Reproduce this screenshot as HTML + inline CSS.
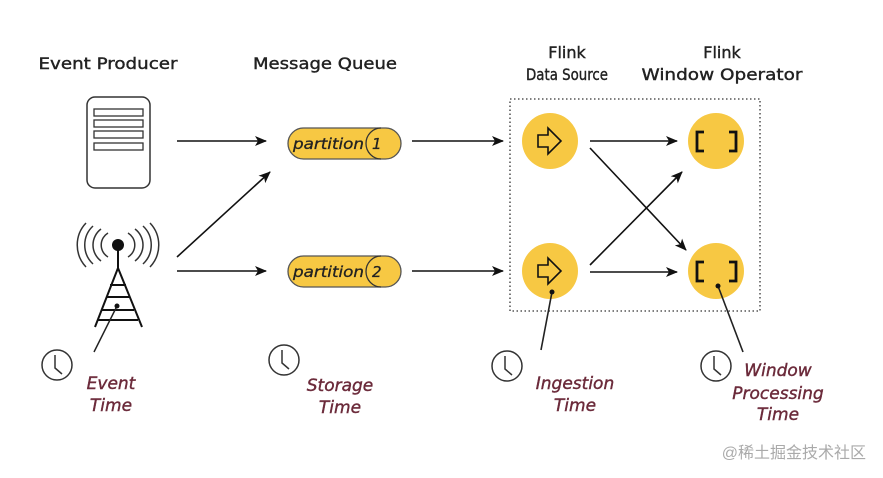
<!DOCTYPE html>
<html><head><meta charset="utf-8"><style>body{margin:0;background:#fff}svg{display:block}</style></head><body>
<svg width="883" height="478" viewBox="0 0 883 478" xmlns="http://www.w3.org/2000/svg" font-family="DejaVu Sans, Liberation Sans, sans-serif">
<defs><marker id="a" markerWidth="12" markerHeight="10" refX="11" refY="5" orient="auto" markerUnits="userSpaceOnUse"><path d="M0,0 L12,5 L0,10 L3,5 Z" fill="#111"/></marker></defs>
<g fill="#222" stroke="#222" stroke-width="0.4" font-size="16" text-anchor="middle">
<text x="108" y="69" textLength="139" lengthAdjust="spacingAndGlyphs">Event Producer</text>
<text x="325" y="69" textLength="144" lengthAdjust="spacingAndGlyphs">Message Queue</text>
<text x="567" y="58">Flink</text><text x="567" y="80" textLength="82" lengthAdjust="spacingAndGlyphs">Data Source</text>
<text x="722" y="58">Flink</text><text x="722" y="80" textLength="161" lengthAdjust="spacingAndGlyphs">Window Operator</text>
</g>
<rect x="87" y="97" width="63" height="91" rx="8" fill="none" stroke="#333" stroke-width="1.5"/>
<g fill="none" stroke="#333" stroke-width="1.3"><rect x="94" y="109" width="49" height="7"/><rect x="94" y="120" width="49" height="7"/><rect x="94" y="131" width="49" height="7"/><rect x="94" y="143" width="49" height="7"/></g>
<g fill="none" stroke="#333" stroke-width="1.5">
<path d="M108,233 a14,14 0 0 0 0,24"/><path d="M101,229 a20,20 0 0 0 0,32"/><path d="M93,226 a26,26 0 0 0 0,38"/><path d="M86,223 a32,32 0 0 0 0,44"/>
<path d="M128,233 a14,14 0 0 1 0,24"/><path d="M135,229 a20,20 0 0 1 0,32"/><path d="M143,226 a26,26 0 0 1 0,38"/><path d="M150,223 a32,32 0 0 1 0,44"/>
<path d="M118,245 V268 M118,268 L95,327 M118,268 L142,327 M110,285 H126 M106,297 H130 M102,310 H134 M98,320 H138" stroke="#111" stroke-width="2"/>
<path d="M117,306 L94,352" stroke="#222"/>
</g>
<circle cx="118" cy="245" r="6" fill="#111"/><circle cx="117" cy="306" r="2.5" fill="#111"/>
<g stroke="#111" stroke-width="1.6" marker-end="url(#a)">
<line x1="177" y1="141" x2="266" y2="141"/><line x1="177" y1="257" x2="270" y2="172"/><line x1="177" y1="271" x2="266" y2="271"/>
<line x1="412" y1="141" x2="503" y2="141"/><line x1="412" y1="271" x2="503" y2="271"/>
<line x1="590" y1="141" x2="677" y2="141"/><line x1="590" y1="272" x2="677" y2="272"/>
<line x1="590" y1="148" x2="686" y2="250"/><line x1="590" y1="265" x2="682" y2="172"/>
</g>
<g font-style="italic" font-size="15" fill="#222" stroke="#222" stroke-width="0.3">
<rect x="288" y="128" width="113" height="31" rx="15.5" fill="#f7c843" stroke="#555" stroke-width="1.3"/>
<path d="M381,128 a15,15.5 0 0 0 0,31" fill="none" stroke="#333" stroke-width="1.3"/>
<text x="293" y="149" textLength="71" lengthAdjust="spacingAndGlyphs">partition</text><text x="372" y="149">1</text>
<rect x="288" y="256" width="113" height="31" rx="15.5" fill="#f7c843" stroke="#555" stroke-width="1.3"/>
<path d="M381,256 a15,15.5 0 0 0 0,31" fill="none" stroke="#333" stroke-width="1.3"/>
<text x="293" y="277" textLength="71" lengthAdjust="spacingAndGlyphs">partition</text><text x="372" y="277">2</text>
</g>
<rect x="510" y="99" width="250" height="212" fill="none" stroke="#333" stroke-width="1.3" stroke-dasharray="1.5,2.5"/>
<g fill="#f7c843"><circle cx="550" cy="141" r="28"/><circle cx="550" cy="271" r="28"/><circle cx="716" cy="141" r="28"/><circle cx="716" cy="271" r="28"/></g>
<g fill="none" stroke="#111" stroke-width="1.6">
<path d="M538,135 h10 v-7 l13,13 l-13,13 v-7 h-10 Z"/><path d="M538,265 h10 v-7 l13,13 l-13,13 v-7 h-10 Z"/>
</g>
<g fill="none" stroke="#111" stroke-width="2.8">
<path d="M704,132 h-7 v19 h7 M729,132 h7 v19 h-7"/><path d="M704,262 h-7 v19 h7 M729,262 h7 v19 h-7"/>
</g>
<g stroke="#222" stroke-width="1.6"><line x1="552" y1="292" x2="541" y2="350"/><line x1="718" y1="286" x2="743" y2="352"/></g>
<circle cx="552" cy="292" r="2.5" fill="#111"/><circle cx="718" cy="286" r="2.5" fill="#111"/>
<g fill="none" stroke="#333" stroke-width="1.5">
<circle cx="57" cy="365" r="15"/><path d="M55,355 V368 L62,374"/>
<circle cx="284" cy="360" r="15"/><path d="M282,350 V363 L289,369"/>
<circle cx="507" cy="366" r="15"/><path d="M505,356 V369 L512,375"/>
<circle cx="716" cy="366" r="15"/><path d="M714,356 V369 L721,375"/>
</g>
<g fill="#6b2a3a" stroke="#6b2a3a" stroke-width="0.4" font-style="italic" font-size="17" text-anchor="middle">
<text x="111" y="389">Event</text><text x="111" y="411">Time</text>
<text x="340" y="391">Storage</text><text x="340" y="413">Time</text>
<text x="575" y="389">Ingestion</text><text x="575" y="411">Time</text>
<text x="778" y="376">Window</text><text x="778" y="399">Processing</text><text x="778" y="420">Time</text>
</g>
<text x="866" y="458" text-anchor="end" font-size="16" fill="#aaa" font-family="Liberation Sans, Noto Sans CJK SC, sans-serif">@稀土掘金技术社区</text>
</svg>
</body></html>
